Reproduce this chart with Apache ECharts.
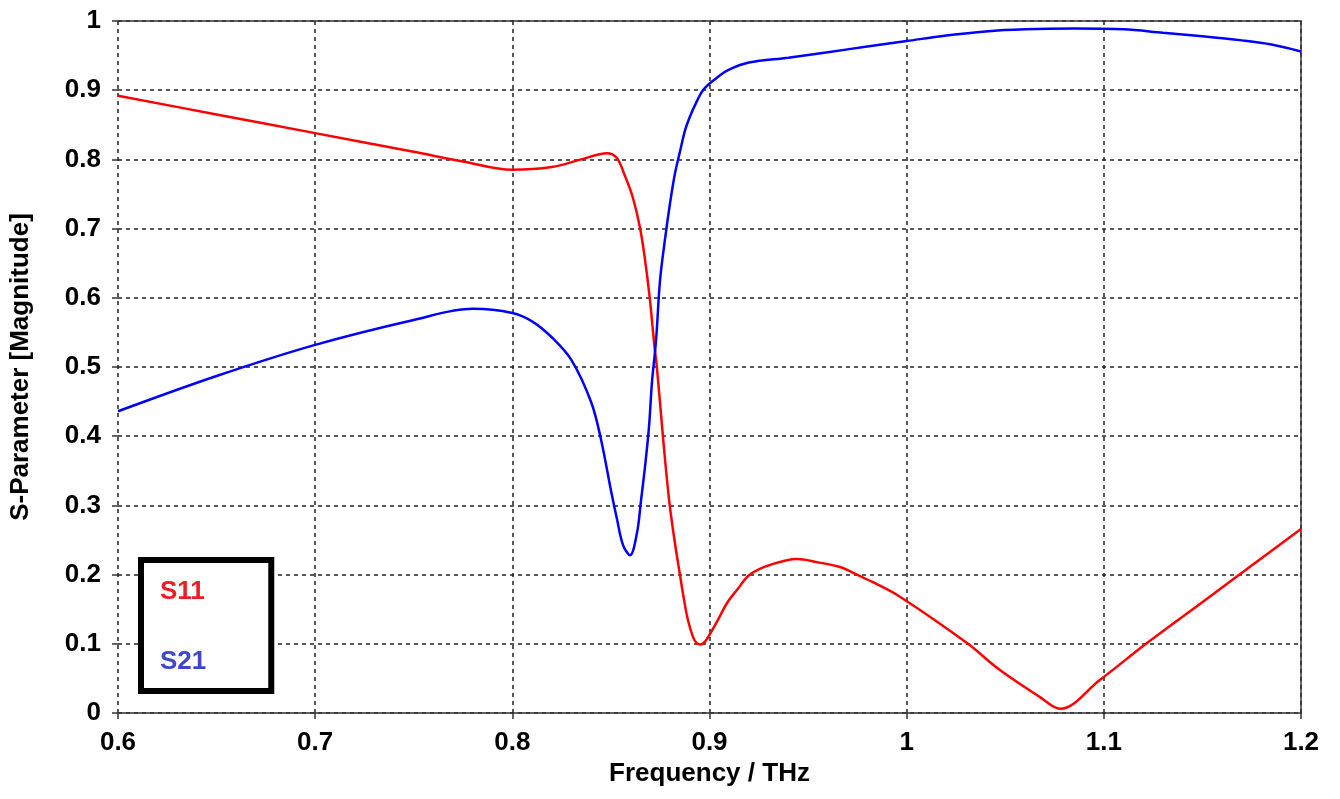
<!DOCTYPE html>
<html>
<head>
<meta charset="utf-8">
<script src="https://cdn.jsdelivr.net/npm/echarts@6/dist/echarts.min.js"></script>
<style>
html,body{margin:0;padding:0;background:#fff;}
#chart{width:1340px;height:799px;}
</style>
</head>
<body>
<div id="chart"></div>
<script>
// Frequency (THz) sample points and S-parameter magnitudes
const s11Freq = [0.600,0.650,0.700,0.750,0.775,0.800,0.820,0.835,0.848,0.853,0.857,0.861,0.8647,0.8673,0.8698,0.8719,0.8734,0.8764,0.8795,0.8825,0.885,0.887,0.889,0.8916,0.8935,0.8955,0.8980,0.9038,0.9089,0.9140,0.9205,0.9307,0.9444,0.9545,0.9662,0.9748,0.9829,0.9966,1.0306,1.0473,1.0676,1.0778,1.0981,1.1219,1.1513,1.200];
const s11Mag  = [0.892,0.865,0.838,0.811,0.797,0.785,0.789,0.800,0.809,0.802,0.777,0.746,0.702,0.655,0.597,0.535,0.497,0.399,0.308,0.245,0.200,0.165,0.135,0.110,0.101,0.099,0.104,0.132,0.159,0.178,0.200,0.214,0.2225,0.218,0.211,0.200,0.189,0.168,0.101,0.062,0.023,0.006,0.048,0.101,0.163,0.266];

const s21Freq = [0.600,0.650,0.700,0.750,0.780,0.800,0.810,0.820,0.830,0.840,0.845,0.850,0.8531,0.8561,0.8597,0.8632,0.8653,0.8673,0.8693,0.8708,0.8729,0.8749,0.8774,0.8800,0.8825,0.8850,0.8876,0.8901,0.8926,0.8967,0.9033,0.9094,0.920,0.940,0.960,0.980,1.000,1.020,1.040,1.060,1.085,1.110,1.130,1.150,1.170,1.185,1.200];
const s21Mag  = [0.436,0.487,0.532,0.568,0.584,0.578,0.566,0.543,0.510,0.449,0.395,0.322,0.280,0.243,0.228,0.260,0.308,0.356,0.413,0.477,0.539,0.625,0.684,0.737,0.780,0.811,0.842,0.862,0.878,0.900,0.917,0.929,0.940,0.947,0.955,0.963,0.971,0.979,0.985,0.988,0.989,0.988,0.983,0.978,0.972,0.966,0.956];

const seriesNames = ['S11','S21'];
const xAxisTitle = 'Frequency / THz';
const yAxisTitle = 'S-Parameter [Magnitude]';

const FONT = "'Liberation Sans', Arial, sans-serif";
const pair = (xs, ys) => xs.map((x, i) => [x, ys[i]]);

const chart = echarts.init(document.getElementById('chart'), null, {renderer:'canvas'});
const gridLine = {show:true, lineStyle:{color:'#222', type:[4,4], width:1.5}};
const labelStyle = {color:'#000', fontFamily:FONT, fontWeight:'bold', fontSize:26};

chart.setOption({
  animation:false,
  backgroundColor:'#fff',
  grid:{left:118, right:39, top:21, bottom:86},
  legend:{
    data:[
      {name:'S11', textStyle:{color:'#ee1c24'}},
      {name:'S21', textStyle:{color:'#3f48cc'}}
    ],
    orient:'vertical', left:141, top:560,
    icon:'none', itemWidth:0, itemHeight:26, itemGap:44,
    padding:[19,65,16,14],
    backgroundColor:'#fff', borderColor:'#000', borderWidth:6,
    selectedMode:false,
    textStyle:{fontFamily:FONT, fontWeight:'bold', fontSize:26, lineHeight:26}
  },
  xAxis:[{
    type:'value', min:0.6, max:1.2, interval:0.1,
    name:xAxisTitle, nameLocation:'middle', nameGap:45,
    nameTextStyle:labelStyle,
    axisLine:{show:true, onZero:false, lineStyle:{color:'#333', width:1.5}},
    axisTick:{show:true, length:6, lineStyle:{color:'#333', width:1.5}},
    axisLabel:Object.assign({margin:17}, labelStyle),
    splitLine:gridLine
  },{
    type:'value', min:0.6, max:1.2, position:'top',
    axisLine:{show:true, onZero:false, lineStyle:{color:'#333', width:1.5}},
    axisTick:{show:false}, axisLabel:{show:false}, splitLine:{show:false}
  }],
  yAxis:[{
    type:'value', min:0, max:1, interval:0.1,
    name:yAxisTitle, nameLocation:'middle', nameGap:84, nameRotate:90,
    nameTextStyle:labelStyle,
    axisLine:{show:false},
    axisTick:{show:true, length:6, lineStyle:{color:'#333', width:1.5}},
    axisLabel:Object.assign({margin:17}, labelStyle),
    splitLine:gridLine
  },{
    type:'value', min:0, max:1, position:'right',
    axisLine:{show:true, onZero:false, lineStyle:{color:'#333', width:1.5}},
    axisTick:{show:false}, axisLabel:{show:false}, splitLine:{show:false}
  }],
  series:[
    {name:seriesNames[0], type:'line', data:pair(s11Freq, s11Mag), showSymbol:false, symbol:'none',
     smooth:0.35, lineStyle:{color:'#ff0000', width:2.5}, itemStyle:{color:'#ff0000'}, z:3},
    {name:seriesNames[1], type:'line', data:pair(s21Freq, s21Mag), showSymbol:false, symbol:'none',
     smooth:0.35, lineStyle:{color:'#0000ff', width:2.5}, itemStyle:{color:'#0000ff'}, z:4}
  ]
});
</script>
</body>
</html>
